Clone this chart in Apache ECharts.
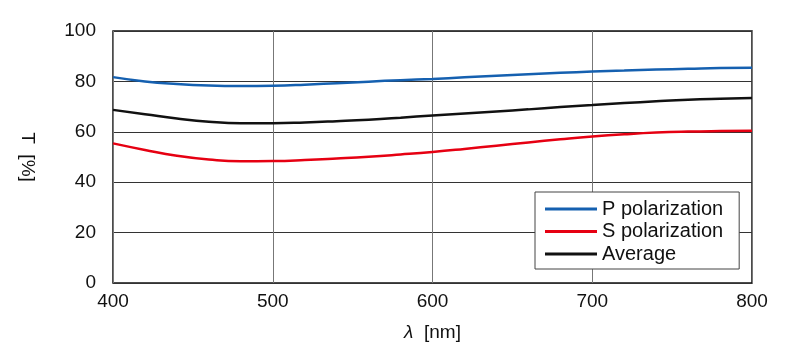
<!DOCTYPE html>
<html><head><meta charset="utf-8">
<script src="https://cdn.jsdelivr.net/npm/echarts@6/dist/echarts.min.js"></script>
<style>html,body{margin:0;padding:0;background:#fff}#c{width:800px;height:360px}</style>
</head><body><div id="c"></div>
<script>
const wavelengths = [400,420,440,460,480,500,520,540,560,580,600,620,640,660,680,700,720,740,760,780,800];
const pPolarization = [81.7,80.0,79.0,78.4,78.2,78.3,78.7,79.3,79.9,80.5,81.0,81.6,82.2,82.8,83.4,83.9,84.3,84.7,85.0,85.3,85.4];
const average = [68.7,67.0,65.3,64.0,63.4,63.4,63.7,64.2,64.8,65.6,66.5,67.3,68.1,68.9,69.8,70.6,71.4,72.1,72.7,73.1,73.4];
const sPolarization = [55.4,52.8,50.5,49.0,48.3,48.4,48.8,49.4,50.1,51.0,52.0,53.2,54.5,55.8,57.0,58.1,59.0,59.7,60.1,60.3,60.4];
const seriesNames = ['P polarization','S polarization','Average'];

const pair = arr => wavelengths.map((x,i)=>[x,arr[i]]);
const font = 'Liberation Sans, Arial, sans-serif';
const chart = echarts.init(document.getElementById('c'));
chart.setOption({
  animation:false,
  textStyle:{fontFamily:font},
  grid:{left:113,right:48,top:31,bottom:77,show:true,borderColor:'#111',borderWidth:1.5},
  legend:{
    orient:'vertical', left:535, top:192,
    backgroundColor:'#fff', borderColor:'#444', borderWidth:1,
    padding:[7,16,5,10], itemGap:2.5, itemWidth:52, itemHeight:3, icon:'rect',
    textStyle:{fontSize:20,lineHeight:20,color:'#111',fontFamily:font},
    data:seriesNames
  },
  xAxis:{type:'value',min:400,max:800,interval:100,
    name:'{i|λ}  [nm]', nameLocation:'middle', nameGap:40,
    nameTextStyle:{fontSize:19,color:'#111',rich:{i:{fontStyle:'italic',fontSize:19,color:'#111',fontFamily:font}}},
    axisLine:{show:false}, axisTick:{show:false},
    axisLabel:{fontSize:19,color:'#111',margin:9},
    splitLine:{show:true,lineStyle:{color:'#777',width:1}}
  },
  yAxis:{type:'value',min:0,max:100,interval:20,
    name:'T  [%]', nameLocation:'middle', nameRotate:-90, nameGap:76,
    nameTextStyle:{fontSize:19,color:'#111'},
    axisLine:{show:false}, axisTick:{show:false},
    axisLabel:{fontSize:19,color:'#111',margin:17},
    splitLine:{show:true,lineStyle:{color:'#333',width:1}}
  },
  series:[
    {name:seriesNames[0],type:'line',data:pair(pPolarization),smooth:true,showSymbol:false,lineStyle:{color:'#1560b0',width:2.5},itemStyle:{color:'#1560b0'}},
    {name:seriesNames[1],type:'line',data:pair(sPolarization),smooth:true,showSymbol:false,lineStyle:{color:'#e60012',width:2.5},itemStyle:{color:'#e60012'}},
    {name:seriesNames[2],type:'line',data:pair(average),smooth:true,showSymbol:false,lineStyle:{color:'#111',width:2.5},itemStyle:{color:'#111'}}
  ]
});
</script></body></html>
